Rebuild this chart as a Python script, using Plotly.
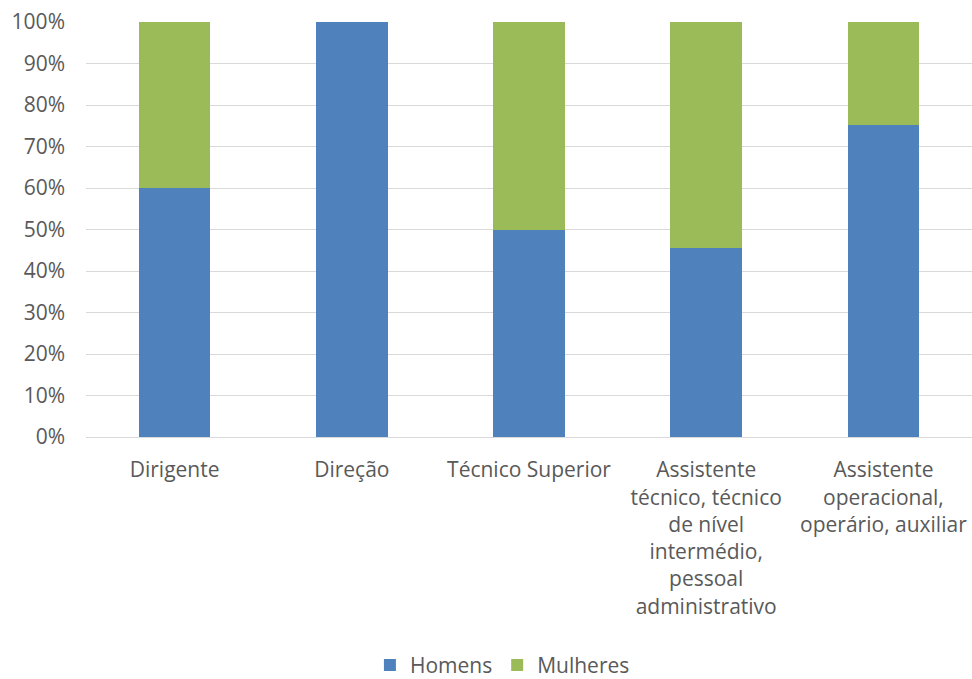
import plotly.graph_objects as go

categories = [
    "Dirigente",
    "Direção",
    "Técnico Superior",
    "Assistente<br>técnico, técnico<br>de nível<br>intermédio,<br>pessoal<br>administrativo",
    "Assistente<br>operacional,<br>operário, auxiliar",
]
homens = [60.0, 100.0, 50.0, 45.6, 75.3]
mulheres = [40.0, 0.0, 50.0, 54.4, 24.7]
y_ticks = [0, 10, 20, 30, 40, 50, 60, 70, 80, 90, 100]
y_tick_labels = [f"{v}%" for v in y_ticks]

font_family = "Open Sans, Noto Sans, sans-serif"
text_color = "#595959"
fs = 21

fig = go.Figure()
fig.add_trace(go.Bar(x=categories, y=homens, name="Homens", marker_color="#4F81BD",
                     marker_line_width=0))
fig.add_trace(go.Bar(x=categories, y=mulheres, name="Mulheres", marker_color="#9BBB59",
                     marker_line_width=0))

fig.update_layout(
    barmode="stack",
    bargap=0.595,
    width=972,
    height=679,
    margin=dict(l=86, r=0, t=22, b=242, autoexpand=False),
    paper_bgcolor="white",
    plot_bgcolor="white",
    font=dict(family=font_family, size=fs, color=text_color),
    legend=dict(orientation="h", x=0.47, xanchor="center", y=-0.55, yanchor="middle",
                font=dict(size=fs, color=text_color), traceorder="normal"),
    xaxis=dict(showgrid=False, showline=True, linecolor="#D9D9D9", ticks="",
               ticklabelstandoff=14, automargin=False,
               tickfont=dict(size=fs, color=text_color)),
    yaxis=dict(range=[0, 100], tickvals=y_ticks, ticktext=y_tick_labels,
               showgrid=True, gridcolor="#D9D9D9", gridwidth=1, zeroline=False,
               ticks="", ticklabelstandoff=20, automargin=False,
               tickfont=dict(size=fs, color=text_color)),
)

fig.write_html(
    "out.html",
    config={"displayModeBar": False},
    post_script="document.body.style.margin='0';document.body.style.overflow='hidden';",
)
